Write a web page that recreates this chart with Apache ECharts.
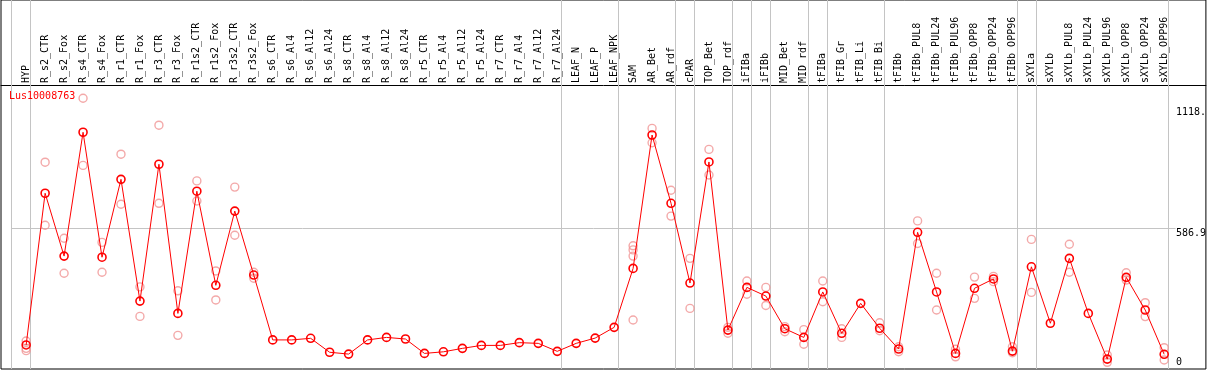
<!DOCTYPE html>
<html>
<head>
<meta charset="utf-8">
<script src="https://cdn.jsdelivr.net/npm/echarts@6/dist/echarts.min.js"></script>
<style>
html,body{margin:0;padding:0;background:#fff;}
#chart{width:1209px;height:370px;}
</style>
</head>
<body>
<div id="chart"></div>
<script>
// ---- data ----
const categories = ['HYP','R_s2_CTR','R_s2_Fox','R_s4_CTR','R_s4_Fox','R_r1_CTR','R_r1_Fox','R_r3_CTR','R_r3_Fox',
  'R_r1s2_CTR','R_r1s2_Fox','R_r3s2_CTR','R_r3s2_Fox','R_s6_CTR','R_s6_Al4','R_s6_Al12','R_s6_Al24',
  'R_s8_CTR','R_s8_Al4','R_s8_Al12','R_s8_Al24','R_r5_CTR','R_r5_Al4','R_r5_Al12','R_r5_Al24',
  'R_r7_CTR','R_r7_Al4','R_r7_Al12','R_r7_Al24','LEAF_N','LEAF_P','LEAF_NPK','SAM','AR_Bet','AR_rdf',
  'cPAR','TOP_Bet','TOP_rdf','iFIBa','iFIBb','MID_Bet','MID_rdf','tFIBa','tFIB_Gr','tFIB_Li','tFIB_Bi',
  'tFIBb','tFIBb_PUL8','tFIBb_PUL24','tFIBb_PUL96','tFIBb_OPP8','tFIBb_OPP24','tFIBb_OPP96',
  'sXYLa','sXYLb','sXYLb_PUL8','sXYLb_PUL24','sXYLb_PUL96','sXYLb_OPP8','sXYLb_OPP24','sXYLb_OPP96'];

const meanValues = [76,740,465,1007,460,801,268,867,214,749,337,662,382,98,98,105,44,36,98,109,102,39,46,61,74,
  74,86,83,48,83,106,153,411,995,696,347,877,141,328,290,147,109,308,127,258,149,58,569,308,39,324,365,49,
  418,171,455,214,14,372,229,35];

const rep1 = [93,876,543,1156,525,911,330,1038,313,794,400,767,394,null,null,null,null,null,null,null,null,null,null,null,null,
  null,null,null,null,null,null,null,510,1024,753,455,932,153,356,328,156,143,356,147,null,173,68,619,390,57,373,376,68,
  538,null,517,null,32,392,261,64];
const rep2 = [61,600,390,862,394,692,201,696,118,706,273,556,368,null,null,null,null,null,null,null,null,null,null,null,null,
  null,null,null,null,null,null,null,492,961,640,236,820,127,298,249,134,79,265,109,null,138,46,520,229,24,280,353,42,
  306,null,394,null,0,360,200,10];
const rep3 = [51,null,null,null,null,null,null,null,null,null,null,null,null,null,null,null,null,null,null,null,null,null,null,null,null,
  null,null,null,null,null,null,null,465,null,null,null,null,null,null,null,null,null,null,null,null,null,null,null,null,null,null,null,null,
  null,null,null,null,null,null,null,null];
const rep4 = [null,null,null,null,null,null,null,null,null,null,null,null,null,null,null,null,null,null,null,null,null,null,null,null,null,
  null,null,null,null,null,null,null,185,null,null,null,null,null,null,null,null,null,null,null,null,null,null,null,null,null,null,null,null,
  null,null,null,null,null,null,null,null];

// sample groups (sizes, in category order) separated by gray lines
const groupSizes = [1,28,3,3,1,2,1,1,2,1,3,7,1,7];

const tickValues = [0, 586.9, 1118];
const tickLabels = ['0', '586.9', '1118.'];
const geneName = 'Lus10008763';

// ---- build ----
const idx = categories.map((c, i) => i);
const meanData = meanValues.map((v, i) => [i, v]);
const repData = [];
[rep1, rep2, rep3, rep4].forEach(arr => arr.forEach((v, i) => { if (v !== null) repData.push([i, v]); }));

const sepOffset = 0.226;
const boundaries = [-1 + sepOffset];
let acc = -1;
groupSizes.forEach(s => { acc += s; boundaries.push(acc + sepOffset); });

const mono = 'DejaVu Sans Mono';
const chart = echarts.init(document.getElementById('chart'), null, {renderer: 'canvas'});
chart.setOption({
  animation: false,
  backgroundColor: '#fff',
  title: {
    text: geneName, left: 9, top: 91, padding: 0,
    textStyle: {color: '#ff0000', fontSize: 10, fontFamily: mono, fontWeight: 'normal'}
  },
  grid: {left: 1, top: 0, right: 1, bottom: 1, show: true, borderColor: '#000', borderWidth: 1, backgroundColor: 'transparent'},
  xAxis: {
    type: 'value', position: 'top', offset: -85,
    min: -1.3263, max: 62.2,
    axisLine: {show: true, onZero: false, lineStyle: {color: '#000', width: 1}},
    axisTick: {show: false},
    splitLine: {show: false},
    axisLabel: {
      customValues: idx, rotate: -90, margin: 2, color: '#000', fontSize: 10, fontFamily: mono,
      formatter: v => categories[Math.round(v)] || ''
    }
  },
  yAxis: {
    type: 'value', position: 'right', min: -29.3, max: 1586,
    axisLine: {show: false, onZero: false}, axisTick: {show: false}, splitLine: {show: false},
    axisLabel: {
      customValues: tickValues, inside: true, margin: 30, align: 'left', verticalAlign: 'top',
      verticalAlignMinLabel: 'middle',
      color: '#000', fontSize: 10, fontFamily: mono,
      formatter: v => { const k = tickValues.indexOf(v); return k >= 0 ? tickLabels[k] : ''; }
    }
  },
  series: [
    {
      type: 'scatter', data: repData, z: 2, silent: true,
      symbol: 'circle', symbolSize: 8,
      itemStyle: {color: 'rgba(0,0,0,0)', borderColor: '#f09494', borderWidth: 1.4},
      markLine: {
        silent: true, symbol: 'none', z: 1, animation: false,
        label: {show: false},
        lineStyle: {color: '#c4c4c4', width: 1, type: 'solid'},
        data: boundaries.map(b => ({xAxis: b})).concat([
          [{coord: [boundaries[0], tickValues[1]]}, {coord: [categories.length - 1 + 0.6, tickValues[1]]}]
        ])
      }
    },
    {
      type: 'line', data: meanData, z: 3, silent: true,
      symbol: 'circle', symbolSize: 8, showSymbol: true,
      lineStyle: {color: '#ff0000', width: 1},
      itemStyle: {color: 'rgba(0,0,0,0)', borderColor: '#ff0000', borderWidth: 1.6}
    }
  ]
});
</script>
</body>
</html>
